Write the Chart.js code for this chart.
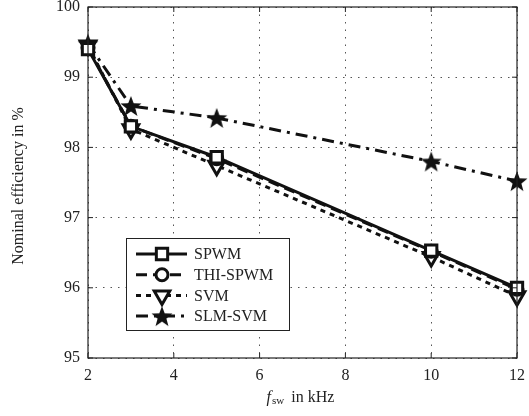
<!DOCTYPE html>
<html>
<head>
<meta charset="utf-8">
<script src="https://cdn.jsdelivr.net/npm/chart.js@4/dist/chart.umd.min.js"></script>
<style>
  html, body { margin: 0; padding: 0; background: #fff; }
  #wrap { width: 529px; height: 416px; }
</style>
</head>
<body>
<div id="wrap"><canvas id="chart"></canvas></div>
<script>
// switching frequency in kHz
var freq = [2, 3, 5, 10, 12];

var spwm    = [99.40, 98.30, 97.86, 96.53, 96.00];
var thiSpwm = [99.42, 98.30, 97.84, 96.52, 95.98];
var svm     = [99.45, 98.26, 97.74, 96.44, 95.88];
var slmSvm  = [99.48, 98.59, 98.42, 97.80, 97.52];

var names = ["SPWM", "THI-SPWM", "SVM", "SLM-SVM"];
var xTicks = [2, 4, 6, 8, 10, 12];
var yTicks = [95, 96, 97, 98, 99, 100];

var FONT = "'Liberation Serif', 'DejaVu Serif', serif";

// filled star marker
function makeStar(size) {
  var c = document.createElement("canvas");
  c.width = size; c.height = size;
  var g = c.getContext("2d");
  var cx = size / 2, cy = size / 2 + 1, ro = size / 2, ri = ro * 0.42;
  g.beginPath();
  for (var i = 0; i < 10; i++) {
    var r = i % 2 == 0 ? ro : ri;
    var a = -Math.PI / 2 + i * Math.PI / 5;
    g.lineTo(cx + r * Math.cos(a), cy + r * Math.sin(a));
  }
  g.closePath();
  g.fillStyle = "#111";
  g.fill();
  return c;
}
var star = makeStar(22);

function pts(ys) {
  return freq.map(function (x, i) { return { x: x, y: ys[i] }; });
}

var datasets = [
  { label: names[0], data: pts(spwm), borderDash: [], pointStyle: "rect", pointRadius: 8, pointRotation: 0 },
  { label: names[1], data: pts(thiSpwm), borderDash: [11, 6], pointStyle: "circle", pointRadius: 6, pointRotation: 0 },
  { label: names[2], data: pts(svm), borderDash: [5, 5], pointStyle: "triangle", pointRadius: 9, pointRotation: 180 },
  { label: names[3], data: pts(slmSvm), borderDash: [12, 6, 3, 6], pointStyle: star, pointRadius: 11, pointRotation: 0 },
].map(function (d) {
  d.borderColor = "#111";
  d.borderWidth = 3;
  d.pointBorderColor = "#111";
  d.pointBackgroundColor = "#fff";
  d.pointBorderWidth = 3;
  d.fill = false;
  d.tension = 0;
  d.clip = false;
  return d;
});

var framePlugin = {
  id: "frame",
  afterDraw: function (chart) {
    var ctx = chart.ctx, a = chart.chartArea;
    var xs = chart.scales.x, ys = chart.scales.y;
    ctx.save();
    ctx.strokeStyle = "#222";
    ctx.lineWidth = 1.2;
    ctx.strokeRect(a.left, a.top, a.right - a.left, a.bottom - a.top);
    // inner tick marks
    ctx.lineWidth = 1;
    xTicks.forEach(function (v) {
      var px = xs.getPixelForValue(v);
      ctx.beginPath();
      ctx.moveTo(px, a.bottom); ctx.lineTo(px, a.bottom - 5);
      ctx.moveTo(px, a.top); ctx.lineTo(px, a.top + 5);
      ctx.stroke();
    });
    yTicks.forEach(function (v) {
      var py = ys.getPixelForValue(v);
      ctx.beginPath();
      ctx.moveTo(a.left, py); ctx.lineTo(a.left + 5, py);
      ctx.moveTo(a.right, py); ctx.lineTo(a.right - 5, py);
      ctx.stroke();
    });

    // axis titles
    ctx.fillStyle = "#222";
    ctx.textBaseline = "alphabetic";
    var cx = (a.left + a.right) / 2;
    var y = 402;
    ctx.font = "italic 16px " + FONT;
    var w1 = ctx.measureText("f").width;
    ctx.font = "11px " + FONT;
    var w2 = ctx.measureText("sw").width;
    ctx.font = "16px " + FONT;
    var rest = "  in kHz";
    var w3 = ctx.measureText(rest).width;
    var x0 = cx - (w1 + w2 + w3) / 2 - 2;
    ctx.font = "italic 16px " + FONT;
    ctx.fillText("f", x0, y);
    ctx.font = "11px " + FONT;
    ctx.fillText("sw", x0 + w1 + 1, y + 2);
    ctx.font = "16px " + FONT;
    ctx.fillText(rest, x0 + w1 + w2, y);

    ctx.save();
    ctx.translate(23, 186);
    ctx.rotate(-Math.PI / 2);
    ctx.textAlign = "center";
    ctx.font = "16px " + FONT;
    ctx.fillText("Nominal efficiency in %", 0, 0);
    ctx.restore();

    // legend box
    var lx = 126, ly = 238, lw = 163, lh = 92;
    ctx.fillStyle = "#fff";
    ctx.fillRect(lx, ly, lw, lh);
    ctx.strokeStyle = "#222";
    ctx.lineWidth = 1;
    ctx.strokeRect(lx + 0.5, ly + 0.5, lw, lh);
    chart.data.datasets.forEach(function (d, i) {
      var ry = ly + 16 + i * 20.7;
      ctx.save();
      ctx.strokeStyle = "#111";
      ctx.lineWidth = 3;
      ctx.setLineDash(d.borderDash);
      ctx.beginPath();
      ctx.moveTo(lx + 10, ry); ctx.lineTo(lx + 61, ry);
      ctx.stroke();
      ctx.restore();
      ctx.fillStyle = "#fff";
      ctx.strokeStyle = "#111";
      ctx.lineWidth = 3;
      Chart.helpers.drawPoint(ctx, {
        pointStyle: d.pointStyle,
        radius: d.pointRadius,
        rotation: d.pointRotation,
        borderWidth: 3
      }, lx + 36, ry);
      ctx.fillStyle = "#222";
      ctx.font = "16px " + FONT;
      ctx.textBaseline = "middle";
      ctx.fillText(d.label, lx + 68, ry + 1);
    });
    ctx.restore();
  }
};

new Chart(document.getElementById("chart"), {
  type: "line",
  data: { datasets: datasets },
  options: {
    responsive: true,
    maintainAspectRatio: false,
    animation: false,
    layout: { autoPadding: false, padding: { left: 0, right: 12, top: 7, bottom: 0 } },
    plugins: { legend: { display: false }, tooltip: { enabled: false } },
    scales: {
      x: {
        type: "linear",
        min: 2, max: 12,
        afterBuildTicks: function (s) { s.ticks = xTicks.map(function (v) { return { value: v }; }); },
        grid: { color: "#555", lineWidth: 1, drawTicks: false },
        border: { display: false, dash: [1.5, 6] },
        ticks: { color: "#222", font: { family: FONT, size: 16 }, padding: 8, maxRotation: 0 },
        afterFit: function (s) { s.height = 58; s.paddingLeft = 0; s.paddingRight = 0; }
      },
      y: {
        min: 95, max: 100,
        afterBuildTicks: function (s) { s.ticks = yTicks.map(function (v) { return { value: v }; }); },
        grid: { color: "#555", lineWidth: 1, drawTicks: false },
        border: { display: false, dash: [1.5, 6] },
        ticks: { color: "#222", font: { family: FONT, size: 16 }, padding: 8 },
        afterFit: function (s) { s.width = 88; s.paddingTop = 0; s.paddingBottom = 0; }
      }
    }
  },
  plugins: [framePlugin]
});
</script>
</body>
</html>
